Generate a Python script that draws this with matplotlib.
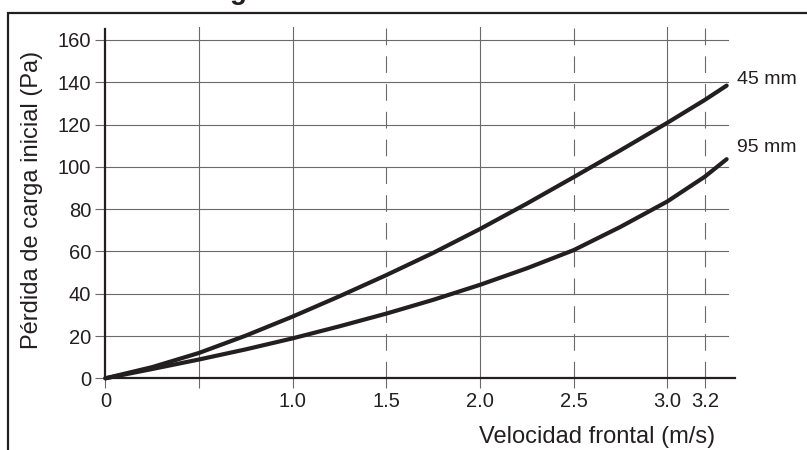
import matplotlib
matplotlib.use("Agg")
import matplotlib.pyplot as plt
from matplotlib.patches import Rectangle

plt.rcParams['font.family'] = ['Liberation Sans', 'DejaVu Sans']

# velocidad frontal (m/s) and initial pressure drop (Pa)
vel = [0, 0.25, 0.5, 0.75, 1.0, 1.25, 1.5, 1.75, 2.0, 2.25, 2.5, 2.75, 3.0, 3.2, 3.317]
p45 = [0, 5.3, 12.0, 20.2, 29.2, 38.8, 48.8, 59.3, 70.6, 82.6, 95.1, 107.8, 120.8, 131.6, 138.4]
p95 = [0, 4.4, 8.9, 13.7, 18.9, 24.6, 30.6, 37.1, 44.2, 52.0, 60.6, 71.6, 83.6, 95.3, 103.6]

xticks = [0, 0.5, 1.0, 1.5, 2.0, 2.5, 3.0, 3.2]
xticklabels = ['0', '', '1.0', '1.5', '2.0', '2.5', '3.0', '3.2']
yticks = [0, 20, 40, 60, 80, 100, 120, 140, 160]
solid_v = [0.5, 1.0, 2.0, 3.0]
dashed_v = [1.5, 2.5, 3.2]

ink = '#231f20'
grey = '#6a6a6a'

fig = plt.figure(figsize=(8.07, 4.5), dpi=100)
ax = fig.add_axes([0.1306, 0.1593, 0.7798, 0.7802])
xmax = 3.36
ax.set_xlim(0, xmax)
ax.set_ylim(0, 166)

# grid drawn by hand: some verticals are dashed
gx = 3.325 / xmax
for y in yticks[1:]:
    ax.axhline(y, xmax=gx, color=grey, lw=0.8, zorder=1)
for x in solid_v:
    ax.axvline(x, color=grey, lw=0.8, zorder=1)
for x in dashed_v:
    ax.axvline(x, color=grey, lw=0.8, ls=(0, (15, 10)), zorder=1)

ax.plot(vel, p45, color=ink, lw=3, solid_capstyle='round', solid_joinstyle='round',
        clip_on=False, zorder=3)
ax.plot(vel, p95, color=ink, lw=3, solid_capstyle='round', solid_joinstyle='round',
        clip_on=False, zorder=3)

ax.text(3.372, 141.5, '45 mm', fontsize=14, color=ink, va='center', ha='left', clip_on=False)
ax.text(3.372, 109.0, '95 mm', fontsize=14, color=ink, va='center', ha='left', clip_on=False)

ax.set_xticks(xticks)
ax.set_xticklabels(xticklabels)
ax.set_yticks(yticks)
ax.tick_params(axis='both', direction='out', length=7.2, width=0.8, color=grey,
               labelsize=14.5, labelcolor=ink, pad=3)

for s in ['top', 'right']:
    ax.spines[s].set_visible(False)
for s in ['left', 'bottom']:
    ax.spines[s].set_linewidth(1.6)
    ax.spines[s].set_color(ink)
    ax.spines[s].set_zorder(4)
ax.spines['left'].set_bounds(0, 165)

ax.set_xlabel('Velocidad frontal (m/s)', fontsize=17, color=ink, ha='right', va='center')
ax.xaxis.set_label_coords(0.9687, -0.167)
ax.set_ylabel('Pérdida de carga inicial (Pa)', fontsize=17, color=ink, va='center')
ax.yaxis.set_label_coords(-0.1166, 0.508)

# outer frame of the figure panel, cut off at right and bottom
fig.patches.append(Rectangle((8 / 807, -0.2), 1.2, 1.2 - 13 / 450, transform=fig.transFigure,
                             fill=False, edgecolor=ink, lw=1.6, clip_on=False))
# bottom of the cropped bold title (the reference shows only this descender)
fig.text(238 / 807, 1 + 0.8 / 450, 'g', fontsize=20, fontweight='bold', color=ink,
         ha='center', va='baseline')

fig.savefig('out.png', dpi=100)
